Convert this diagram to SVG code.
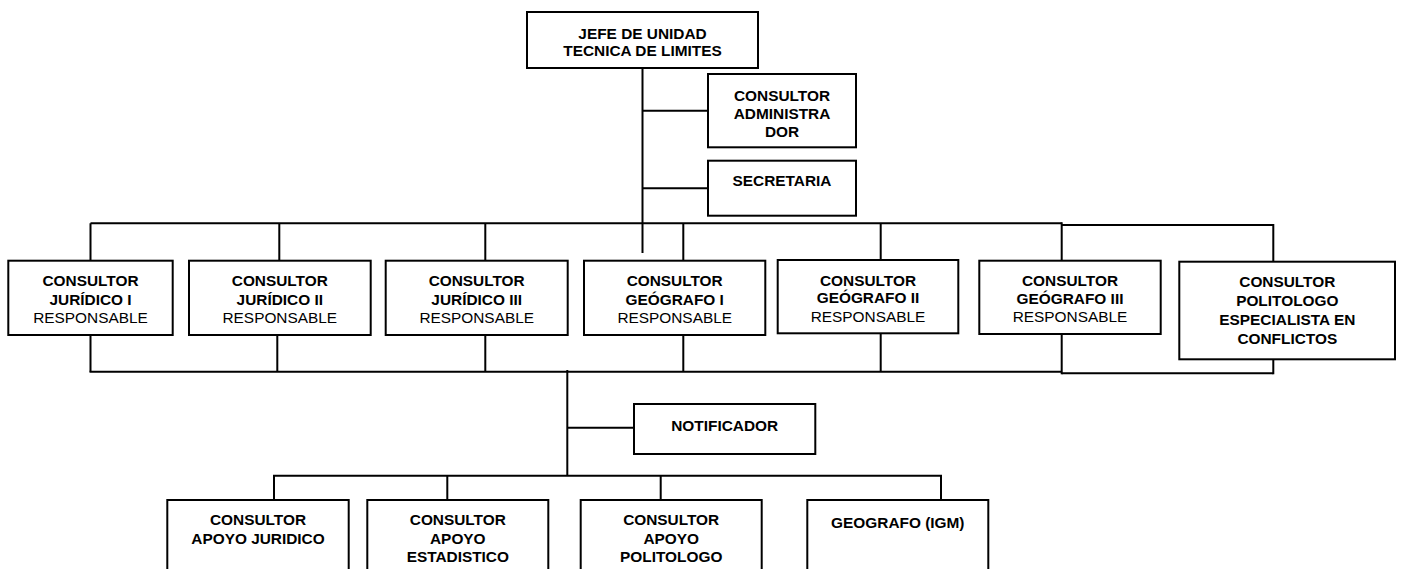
<svg xmlns="http://www.w3.org/2000/svg" width="1402" height="569" viewBox="0 0 1402 569">
<style>
.box{fill:#fff;stroke:#000;stroke-width:2}
.ln{fill:none;stroke:#000;stroke-width:2}
text{font-family:"Liberation Sans",Arial,sans-serif;font-size:15.4px;text-anchor:middle;fill:#000}
.b{font-weight:bold}
</style>
<rect width="1402" height="569" fill="#fff"/>
<g id="connectors">
<path class="ln" d="M642.5 68 V253"/>
<path class="ln" d="M642.5 110.7 H708"/>
<path class="ln" d="M642.5 188.3 H708"/>
<path class="ln" d="M90.5 223.3 H1061.7 M1061.7 225 H1273.3"/>
<path class="ln" d="M90.5 223.3 V260.7 M279.3 223.3 V260.7 M485.3 223.3 V260.7 M683.3 223.3 V260.7 M880.7 223.3 V260 M1061.7 222.3 V260.7 M1273.3 224 V261.7"/>
<path class="ln" d="M90.5 335 V371.7 M277.3 335 V371.7 M485.3 335 V371.7 M683.3 335 V371.7 M880.7 333.3 V371.7 M1061.7 334 V374.3 M1273.3 359.3 V374.3"/>
<path class="ln" d="M89.5 371.7 H1061.7 M1061.7 373.3 H1273.3"/>
<path class="ln" d="M567.3 370 V475.7"/>
<path class="ln" d="M567.3 427.7 H634"/>
<path class="ln" d="M274 475.7 H941 M274 474.7 V500 M447.3 475.7 V500 M660.7 475.7 V500 M941 474.7 V500"/>
</g>
<g id="jefe"><rect class="box" x="527" y="12" width="231" height="56"/><text class="b" x="642.5" y="38.8">JEFE DE UNIDAD</text><text class="b" x="642.5" y="56.2">TECNICA DE LIMITES</text></g>
<g id="administrador"><rect class="box" x="708" y="74" width="148" height="73.3"/><text class="b" x="782" y="101.2">CONSULTOR</text><text class="b" x="782" y="118.8">ADMINISTRA</text><text class="b" x="782" y="136.5">DOR</text></g>
<g id="secretaria"><rect class="box" x="708" y="160.7" width="148" height="55"/><text class="b" x="782" y="186.2">SECRETARIA</text></g>
<g id="juridico1"><rect class="box" x="8.3" y="260.7" width="164.4" height="74.3"/><text class="b" x="90.5" y="286.2">CONSULTOR</text><text class="b" x="90.5" y="304.8">JURÍDICO I</text><text x="90.5" y="322.8">RESPONSABLE</text></g>
<g id="juridico2"><rect class="box" x="189" y="260.7" width="181.7" height="74.3"/><text class="b" x="279.8" y="286.2">CONSULTOR</text><text class="b" x="279.8" y="304.8">JURÍDICO II</text><text x="279.8" y="322.8">RESPONSABLE</text></g>
<g id="juridico3"><rect class="box" x="385.7" y="260.7" width="182" height="74.3"/><text class="b" x="476.7" y="286.2">CONSULTOR</text><text class="b" x="476.7" y="304.8">JURÍDICO III</text><text x="476.7" y="322.8">RESPONSABLE</text></g>
<g id="geografo1"><rect class="box" x="584" y="260.7" width="181.3" height="74.3"/><text class="b" x="674.7" y="286.2">CONSULTOR</text><text class="b" x="674.7" y="304.8">GEÓGRAFO I</text><text x="674.7" y="322.8">RESPONSABLE</text></g>
<g id="geografo2"><rect class="box" x="777.7" y="260" width="180.6" height="73.3"/><text class="b" x="868" y="285.5">CONSULTOR</text><text class="b" x="868" y="303.2">GEÓGRAFO II</text><text x="868" y="321.5">RESPONSABLE</text></g>
<g id="geografo3"><rect class="box" x="979.3" y="260.7" width="181.4" height="73.3"/><text class="b" x="1070" y="286">CONSULTOR</text><text class="b" x="1070" y="304">GEÓGRAFO III</text><text x="1070" y="322">RESPONSABLE</text></g>
<g id="politologo"><rect class="box" x="1179.3" y="261.7" width="215.7" height="97.6"/><text class="b" x="1287.3" y="286.5">CONSULTOR</text><text class="b" x="1287.3" y="305.5">POLITOLOGO</text><text class="b" x="1287.3" y="325">ESPECIALISTA EN</text><text class="b" x="1287.3" y="343.8">CONFLICTOS</text></g>
<g id="notificador"><rect class="box" x="634" y="404" width="181.3" height="50"/><text class="b" x="724.7" y="431.2">NOTIFICADOR</text></g>
<g id="apoyo-juridico"><rect class="box" x="167.3" y="500" width="181.4" height="90"/><text class="b" x="258" y="524.8">CONSULTOR</text><text class="b" x="258" y="543.8">APOYO JURIDICO</text></g>
<g id="apoyo-estadistico"><rect class="box" x="367.3" y="500" width="181" height="90"/><text class="b" x="457.8" y="524.8">CONSULTOR</text><text class="b" x="457.8" y="543.5">APOYO</text><text class="b" x="457.8" y="562.2">ESTADISTICO</text></g>
<g id="apoyo-politologo"><rect class="box" x="580.7" y="500" width="181" height="90"/><text class="b" x="671.2" y="524.8">CONSULTOR</text><text class="b" x="671.2" y="543.5">APOYO</text><text class="b" x="671.2" y="562.2">POLITOLOGO</text></g>
<g id="geografo-igm"><rect class="box" x="807.3" y="500" width="181" height="90"/><text class="b" x="897.8" y="527.8">GEOGRAFO (IGM)</text></g>
</svg>
